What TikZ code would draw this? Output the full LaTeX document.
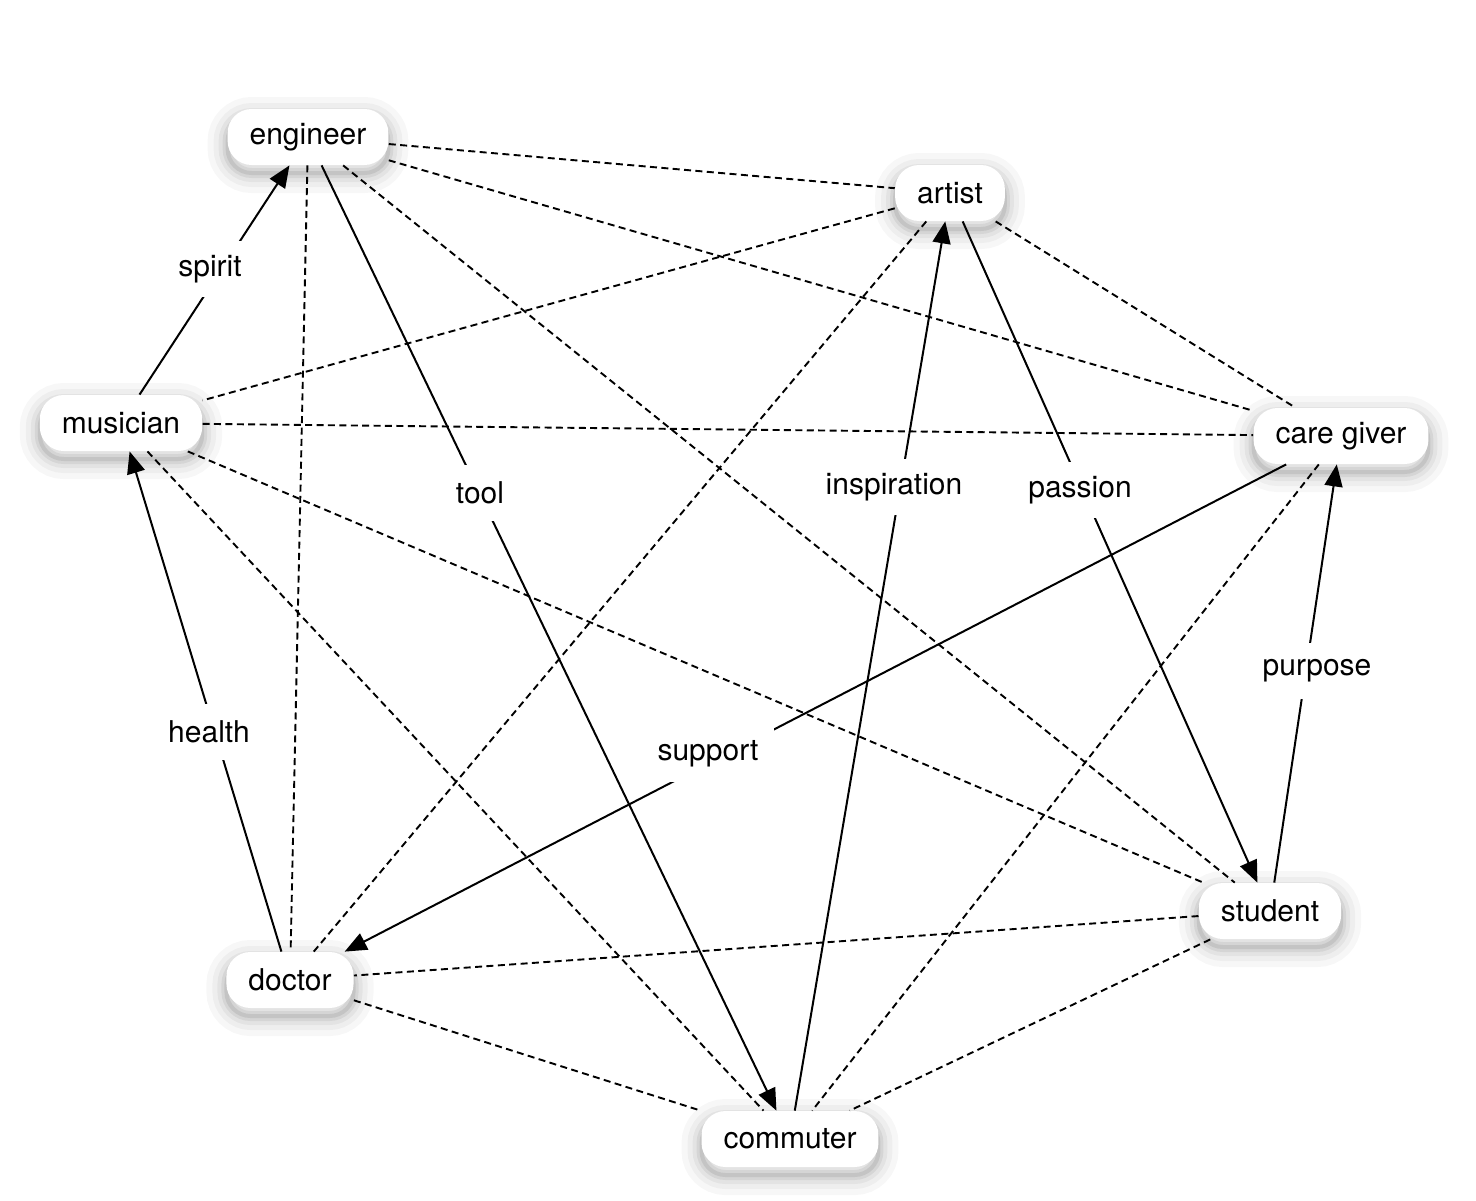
\documentclass[tikz,border=0pt]{standalone}
\usepackage{fontspec}
\setmainfont{TeX Gyre Heros}
\usetikzlibrary{arrows.meta}
\begin{document}
\begin{tikzpicture}[x=0.5pt,y=-0.5pt,
  every node/.style={font=\fontsize{15}{18}\selectfont},
  shadowring/.style 2 args={preaction={draw=black, draw opacity=#1, line width=#2, transform canvas={yshift=-4pt}}},
  ent/.style={rectangle, rounded corners=12pt, fill=white, inner xsep=11pt, minimum height=28pt,
    shadowring={0.03}{20pt}, shadowring={0.035}{14pt}, shadowring={0.045}{9pt},
    shadowring={0.06}{5pt}, shadowring={0.08}{2pt}},
  rel/.style={line width=1pt, -{Triangle[length=11pt,width=9pt]}},
  assoc/.style={line width=0.95pt, dash pattern=on 3.5pt off 2.2pt},
  lbl/.style={fill=white, inner xsep=5pt, inner ysep=0pt, minimum height=28pt}
]
\fill[white] (0,0) rectangle (1476,1200);
\useasboundingbox (0,0) rectangle (1476,1200);

\node[ent] (eng)  at (308,137)  {engineer};
\node[ent] (art)  at (950,193)  {artist};
\node[ent] (mus)  at (121,423)  {musician};
\node[ent] (care) at (1341,436) {care giver};
\node[ent] (stu)  at (1270,911) {student};
\node[ent] (doc)  at (290,980)  {doctor};
\node[ent] (com)  at (790,1139) {commuter};

\draw[assoc] (eng) -- (art);
\draw[assoc] (eng) -- (care);
\draw[assoc] (eng) -- (stu);
\draw[assoc] (eng) -- (doc);
\draw[assoc] (art) -- (mus);
\draw[assoc] (art) -- (care);
\draw[assoc] (art) -- (doc);
\draw[assoc] (mus) -- (care);
\draw[assoc] (mus) -- (stu);
\draw[assoc] (mus) -- (com);
\draw[assoc] (care) -- (com);
\draw[assoc] (stu) -- (doc);
\draw[assoc] (stu) -- (com);
\draw[assoc] (doc) -- (com);

\draw[rel] (mus) -- (eng);
\draw[rel] (doc) -- (mus);
\draw[rel] (eng) -- (com);
\draw[rel] (com) -- (art);
\draw[rel] (art) -- (stu);
\draw[rel] (stu) -- (care);
\draw[rel] (care) -- (doc);

\node[lbl] (lspirit)  at (210,269)  {spirit};
\node[lbl] (lhealth)  at (209,732)  {health};
\node[lbl] (ltool)    at (480,493)  {tool};
\node[lbl] (linsp)    at (894,487)  {inspiration};
\node[lbl] (lpassion) at (1080,490) {passion};
\node[lbl] (lpurpose) at (1317,671) {purpose};
\node[lbl, inner xsep=8pt] (lsupport) at (708,754) {support};
\end{tikzpicture}
\end{document}
